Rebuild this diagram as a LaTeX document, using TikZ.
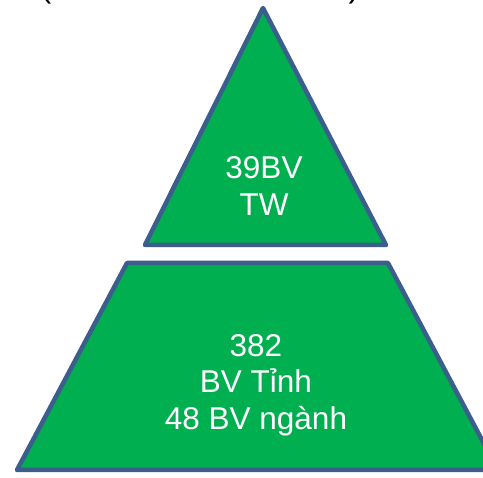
\documentclass[tikz,border=0pt]{standalone}
\usepackage{fontspec}
\setmainfont{Liberation Sans}
\usepackage{tikz}
\definecolor{bvgreen}{HTML}{00B050}
\definecolor{bvedge}{HTML}{3B5E8C}
\tikzset{level/.style={fill=bvgreen,draw=bvedge,line width=4.5pt,line join=round}}
\tikzset{label/.style={text=white,align=center,font=\fontsize{31.5}{36.5}\selectfont}}

\begin{document}
\begin{tikzpicture}[x=1pt,y=-1pt]
        \useasboundingbox (0,0) rectangle (483,478);
        % title brackets, mostly off the top edge
        \node(lp)[anchor=base,font=\fontsize{32}{36}\selectfont] at (46,-2){(};
        \node(rp)[anchor=base,font=\fontsize{32}{36}\selectfont] at (354,-2){)};
        % upper level
        \draw[level] (263,8) -- (386,245) -- (145,245) -- cycle;
        % lower level
        \draw[level] (127,263) -- (388,263) -- (498,470) -- (17,470) -- cycle;
        \node(tw)[label] at (264,186){39BV\\TW};
        \node(tinh)[label] at (256,385){382\\BV Tỉnh\\48 BV ngành};
      \end{tikzpicture}
\end{document}
